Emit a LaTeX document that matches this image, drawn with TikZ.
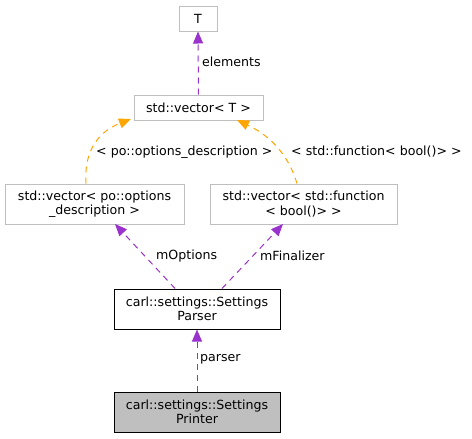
\documentclass[tikz,border=0pt]{standalone}
\usepackage{fontspec}
\setmainfont{DejaVu Sans}
\usetikzlibrary{arrows.meta}
\definecolor{edgepurple}{HTML}{9A32CD}
\definecolor{edgeorange}{HTML}{FFA500}
\definecolor{boxgray}{HTML}{BFBFBF}
\begin{document}
\begin{tikzpicture}[x=1pt,y=-1pt,
  every node/.style={font=\fontsize{12.6}{14.5}\selectfont, inner sep=0pt},
  cls/.style={draw=boxgray, line width=1pt, align=center, fill=white},
  mainbox/.style={draw=black, line width=1pt, align=center},
  rel/.style={draw=edgepurple, line width=1pt, dash pattern=on 6pt off 5pt,
     -{Triangle[length=12pt,width=10pt,fill=edgepurple]}},
  tmpl/.style={draw=edgeorange, line width=1pt, dash pattern=on 6pt off 5pt,
     -{Triangle[length=12pt,width=10pt,fill=edgeorange]}},
  lbl/.style={anchor=west}]
\useasboundingbox (0,0) rectangle (472,439);
% boxes
\node[cls, minimum width=38, minimum height=25] (T) at (198,18.5) {T};
\node[cls, minimum width=129, minimum height=25] (vec) at (198.5,107.5) {std::vector< T >};
\node[cls, minimum width=179, minimum height=40] (vpo) at (94.5,204) {std::vector< po::options\\\_description >};
\node[cls, minimum width=187, minimum height=40] (vfn) at (303.5,204) {std::vector< std::function\\< bool()> >};
\node[mainbox, fill=white, minimum width=166, minimum height=40] (parser) at (197,309) {carl::settings::Settings\\Parser};
\node[mainbox, fill=boxgray, minimum width=166, minimum height=40] (printer) at (197,412) {carl::settings::Settings\\Printer};
% edges
\draw[rel] (vec.north) -- (T.south);
\node[lbl] (le) at (202,62) {elements};
\draw[tmpl] (vpo.north -| 86,0) .. controls (84,155) and (95,133) .. (131,119);
\node[lbl] (lpo) at (96,152) {< po::options\_description >};
\draw[tmpl] (vfn.north -| 297,0) .. controls (290,160) and (275,138) .. (237,120);
\node[lbl] (lfn) at (291,152) {< std::function< bool()> >};
\draw[rel] (parser.north -| 175,0) -- (115,224);
\node[lbl] (lmo) at (156,256) {mOptions};
\draw[rel] (parser.north -| 222,0) -- (283,224);
\node[lbl] (lmf) at (260,256) {mFinalizer};
\draw[rel] (printer.north) -- (parser.south);
\node[lbl] (lpa) at (200,359) {parser};
\end{tikzpicture}
\end{document}
